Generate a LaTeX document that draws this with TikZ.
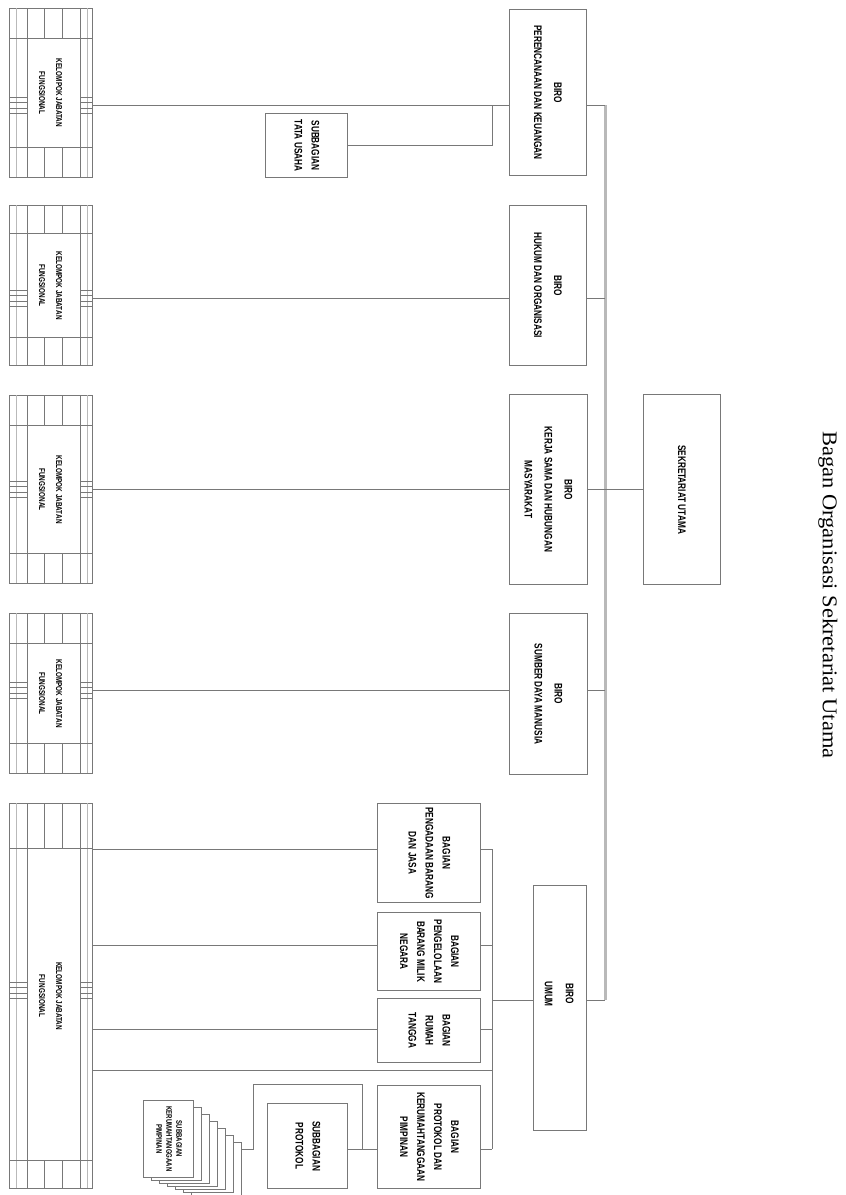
\documentclass[tikz,border=0pt]{standalone}
\usepackage{fontspec}
\setmainfont{Liberation Serif}
\newfontfamily\bxf{Liberation Sans}
\usetikzlibrary{calc}
\definecolor{lc}{RGB}{120,120,120}
\definecolor{lcl}{RGB}{185,185,185}
\newcommand\rtx[3]{\rotatebox{-90}{\scalebox{0.75}[1]{\fontsize{#1}{#2}\selectfont\bxf\bfseries\begin{tabular}{@{}c@{}}#3\end{tabular}}}}
\newcommand\kjfdeco[5]{%
  \draw[lcl, line width=0.8pt] (16,#1) -- (16,#2) (87,#1) -- (87,#2);
  \draw[lc, line width=0.9pt] (27,#1) -- (27,#2) (80,#1) -- (80,#2);
  \draw[lc, line width=0.9pt] (9,#3) -- (92,#3) (9,#4) -- (92,#4);
  \draw[lc, line width=0.8pt] (44,#1) -- (44,#3) (62,#1) -- (62,#3) (44,#4) -- (44,#2) (62,#4) -- (62,#2);
  \foreach \d in {-8,-3,3,8} {\draw[lc, line width=0.7pt] (9,{#5+(\d)}) -- (27,{#5+(\d)}) (80,{#5+(\d)}) -- (92,{#5+(\d)});}
}
\tikzset{
  bx/.style={draw=lc, line width=1.1pt, fill=white, inner sep=0pt, anchor=north west},
  ln/.style={draw=lc, line width=0.9pt},
  busline/.style={draw=lcl, line width=3pt},
}
\begin{document}
\begin{tikzpicture}[x=1pt,y=-1pt]
\useasboundingbox (0,0) rectangle (846,1195);
\fill[white] (0,0) rectangle (846,1195);

% level coordinates
\coordinate (L1) at (300,105);
\coordinate (L2) at (300,298);
\coordinate (L3) at (300,489);
\coordinate (L4) at (300,690);
\coordinate (L5) at (300,1000);
\coordinate (G1) at (300,849);
\coordinate (G2) at (300,945);
\coordinate (G3) at (300,1029);
\coordinate (G7) at (300,1070);
\coordinate (G4) at (300,1149);
\coordinate (bt) at (605,105);
\coordinate (bb) at (605,1000);
\coordinate (gt) at (492,849);
\coordinate (gb) at (492,1149);
\coordinate (tuj) at (492,105);
\coordinate (sj) at (362,1149);
\coordinate (sjt) at (362,1084);
\coordinate (sjl) at (253,1084);

% Kelompok Jabatan Fungsional
\node[bx, minimum width=83pt, minimum height=169pt] (k1) at (9,8) {\rtx{8.5}{17}{KELOMPOK JABATAN\\FUNGSIONAL}};
\node[bx, minimum width=83pt, minimum height=160pt] (k2) at (9,205) {\rtx{8.5}{17}{KELOMPOK JABATAN\\FUNGSIONAL}};
\node[bx, minimum width=83pt, minimum height=188pt] (k3) at (9,395) {\rtx{8.5}{17}{KELOMPOK JABATAN\\FUNGSIONAL}};
\node[bx, minimum width=83pt, minimum height=160pt] (k4) at (9,613) {\rtx{8.5}{17}{KELOMPOK JABATAN\\FUNGSIONAL}};
\node[bx, minimum width=83pt, minimum height=385pt] (k5) at (9,803) {\rtx{8.5}{17}{KELOMPOK JABATAN\\FUNGSIONAL}};
\kjfdeco{8}{177}{38}{147}{105}
\kjfdeco{205}{365}{233}{337}{298}
\kjfdeco{395}{583}{425}{553}{489}
\kjfdeco{613}{773}{643}{743}{690}
\kjfdeco{803}{1188}{848}{1160}{990}

% Biro
\node[bx, minimum width=77pt, minimum height=166pt] (b1) at (509,9) {\rtx{11}{20}{BIRO\\PERENCANAAN DAN KEUANGAN}};
\node[bx, minimum width=77pt, minimum height=160pt] (b2) at (509,205) {\rtx{11}{20}{BIRO\\HUKUM DAN ORGANISASI}};
\node[bx, minimum width=78pt, minimum height=190pt] (b3) at (509,394) {\rtx{11}{20}{BIRO\\KERJA SAMA DAN HUBUNGAN\\MASYARAKAT}};
\node[bx, minimum width=78pt, minimum height=161pt] (b4) at (509,613) {\rtx{11}{20}{BIRO\\SUMBER DAYA MANUSIA}};
\node[bx, minimum width=53pt, minimum height=245pt] (b5) at (533,885) {};
\node[inner sep=0pt] (b5t) at (559.5,994) {\rtx{11}{21}{BIRO\\UMUM}};
\node[bx, minimum width=77pt, minimum height=190pt] (su) at (643,394) {\rtx{11}{20}{SEKRETARIAT UTAMA}};
\node[bx, minimum width=82pt, minimum height=64pt] (tu) at (265,113) {\rtx{11}{17}{SUBBAGIAN\\TATA USAHA}};

% Bagian
\node[bx, minimum width=103pt, minimum height=99pt] (g1) at (377,803) {\rtx{11}{17}{BAGIAN\\PENGADAAN BARANG\\DAN JASA}};
\node[bx, minimum width=103pt, minimum height=78pt] (g2) at (377,912) {\rtx{11}{17}{BAGIAN\\PENGELOLAAN\\BARANG MILIK\\NEGARA}};
\node[bx, minimum width=103pt, minimum height=64pt] (g3) at (377,998) {\rtx{11}{17}{BAGIAN\\RUMAH\\TANGGA}};
\node[bx, minimum width=103pt, minimum height=103pt] (g4) at (377,1085) {\rtx{11}{17}{BAGIAN\\PROTOKOL DAN\\KERUMAHTANGGAAN\\PIMPINAN}};
\node[bx, minimum width=80pt, minimum height=85pt] (sp) at (267,1103) {\rtx{11}{17}{SUBBAGIAN\\PROTOKOL}};

% stacked pages
\foreach \i in {6,5,...,1} {
  \node[bx, line width=0.8pt, minimum width=50pt, minimum height={77-4*\i}] (p\i) at ({143+8*\i},{1100+7*\i}) {};
}
\node[bx, line width=0.8pt, minimum width=50pt, minimum height=77pt] (p0) at (143,1100) {\rtx{8}{10}{SUBBAGIAN\\KERUMAHTANGGAAN\\PIMPINAN}};

% title
\node[rotate=-90, inner sep=0pt] (title) at (828,595) {\scalebox{1.07}[1]{\fontsize{21}{21}\selectfont Bagan Organisasi Sekretariat Utama}};

% connectors
\draw[busline] (bt) -- (bb);
\draw[ln] (k1.east |- L1) -- (b1.west |- L1);
\draw[ln] (b1.east |- L1) -- (bt);
\draw[ln] (tu.east) -- (tu.east -| tuj) -- (tuj);
\draw[ln] (k2.east |- L2) -- (b2.west |- L2);
\draw[ln] (b2.east |- L2) -- (bt |- L2);
\draw[ln] (k3.east |- L3) -- (b3.west |- L3);
\draw[ln] (b3.east |- L3) -- (su.west |- L3);
\draw[ln] (k4.east |- L4) -- (b4.west |- L4);
\draw[ln] (b4.east |- L4) -- (bt |- L4);
\draw[ln] (b5.east |- L5) -- (bt |- L5);
\draw[ln] (b5.west |- L5) -- (gt |- L5);
\draw[ln] (gt) -- (gb);
\draw[ln] (k5.east |- G1) -- (g1.west |- G1);
\draw[ln] (g1.east |- G1) -- (gt);
\draw[ln] (k5.east |- G2) -- (g2.west |- G2);
\draw[ln] (g2.east |- G2) -- (gt |- G2);
\draw[ln] (k5.east |- G3) -- (g3.west |- G3);
\draw[ln] (g3.east |- G3) -- (gt |- G3);
\draw[ln] (k5.east |- G7) -- (gt |- G7);
\draw[ln] (g4.east |- G4) -- (gb);
\draw[ln] (sp.east |- G4) -- (g4.west |- G4);
\draw[ln] (sj) -- (sjt) -- (sjl) -- (sjl |- G4) -- (p6.east |- G4);
\end{tikzpicture}
\end{document}
